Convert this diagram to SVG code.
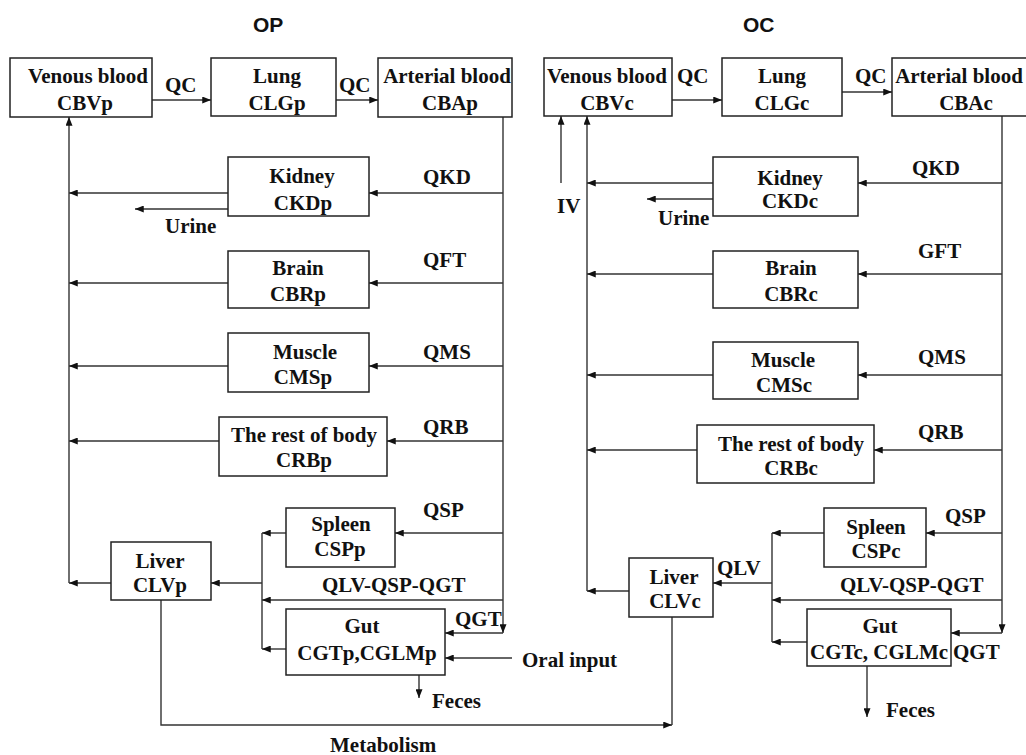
<svg xmlns="http://www.w3.org/2000/svg" width="1026" height="755" viewBox="0 0 1026 755">
<defs>
<style>
.box{fill:#fff;stroke:#222;stroke-width:1.5}
.t{font-family:"Liberation Serif","Times New Roman",serif;font-weight:bold;font-size:21px;fill:#111;text-anchor:middle}
.l{font-family:"Liberation Serif","Times New Roman",serif;font-weight:bold;font-size:21px;fill:#111}
.h{font-family:"Liberation Sans",Arial,sans-serif;font-weight:bold;font-size:21px;fill:#111}
.c{fill:none;stroke:#333;stroke-width:1.4}
.a{marker-end:url(#ah)}
</style>
<marker id="ah" viewBox="0 0 10 8" refX="10" refY="4" markerWidth="9" markerHeight="7" orient="auto" markerUnits="userSpaceOnUse"><path d="M0,0 L10,4 L0,8 z" fill="#111"/></marker>
</defs>
<rect width="1026" height="755" fill="#fff"/>
<text class="h" x="253" y="32">OP</text>
<text class="h" x="743" y="32">OC</text>

<g id="connectors">
<!-- OP -->
<path class="c a" d="M152,100 H211"/>
<path class="c a" d="M336,100 H378"/>
<path class="c a" d="M503,117 V633"/>
<path class="c a" d="M503,633 H445"/>
<path class="c a" d="M503,193 H369"/>
<path class="c a" d="M503,283 H369"/>
<path class="c a" d="M503,366 H369"/>
<path class="c a" d="M503,441 H387"/>
<path class="c a" d="M503,533 H395"/>
<path class="c a" d="M503,600 H262"/>
<path class="c a" d="M228,193 H69"/>
<path class="c a" d="M228,283 H69"/>
<path class="c a" d="M228,366 H69"/>
<path class="c a" d="M219,441 H69"/>
<path class="c a" d="M111,583 H69"/>
<path class="c a" d="M69,583 V117"/>
<path class="c a" d="M228,209 H135"/>
<path class="c a" d="M286,533 H262"/>
<path class="c a" d="M286,649 H262"/>
<path class="c" d="M262,533 V649"/>
<path class="c a" d="M262,583 H211"/>
<path class="c a" d="M512,658 H445"/>
<path class="c a" d="M419,675 V698"/>
<path class="c a" d="M161,600 V725 H672"/>
<!-- OC -->
<path class="c a" d="M672,100 H722"/>
<path class="c a" d="M842,92 H892"/>
<path class="c a" d="M561,183 V116"/>
<path class="c a" d="M587,591 V116"/>
<path class="c a" d="M1002,116 V633"/>
<path class="c a" d="M1002,633 H951"/>
<path class="c a" d="M1002,183 H858"/>
<path class="c a" d="M1002,274 H858"/>
<path class="c a" d="M1002,375 H858"/>
<path class="c a" d="M1002,450 H874"/>
<path class="c a" d="M1002,533 H926"/>
<path class="c a" d="M1002,600 H772"/>
<path class="c a" d="M713,183 H587"/>
<path class="c a" d="M713,274 H587"/>
<path class="c a" d="M713,375 H587"/>
<path class="c a" d="M697,450 H587"/>
<path class="c a" d="M629,591 H587"/>
<path class="c a" d="M713,199 H647"/>
<path class="c a" d="M824,533 H772"/>
<path class="c a" d="M807,642 H772"/>
<path class="c" d="M772,533 V642"/>
<path class="c a" d="M772,583 H713"/>
<path class="c a" d="M867,666 V717"/>
<path class="c" d="M672,617 V725"/>
</g>

<g id="labels">
<text class="l" x="165" y="92">QC</text>
<text class="l" x="339" y="92">QC</text>
<text class="l" x="423" y="184">QKD</text>
<text class="l" x="165" y="233">Urine</text>
<text class="l" x="423" y="267">QFT</text>
<text class="l" x="423" y="359">QMS</text>
<text class="l" x="423" y="434">QRB</text>
<text class="l" x="423" y="517">QSP</text>
<text class="l" x="322" y="592">QLV-QSP-QGT</text>
<text class="l" x="455" y="626">QGT</text>
<text class="l" x="522" y="667">Oral input</text>
<text class="l" x="432" y="708">Feces</text>
<text class="l" x="330" y="752">Metabolism</text>
<text class="l" x="677" y="83">QC</text>
<text class="l" x="855" y="83">QC</text>
<text class="l" x="557" y="213">IV</text>
<text class="l" x="912" y="175">QKD</text>
<text class="l" x="658" y="225">Urine</text>
<text class="l" x="918" y="258">GFT</text>
<text class="l" x="918" y="364">QMS</text>
<text class="l" x="918" y="439">QRB</text>
<text class="l" x="945" y="523">QSP</text>
<text class="l" x="717" y="575">QLV</text>
<text class="l" x="840" y="592">QLV-QSP-QGT</text>
<text class="l" x="953" y="659">QGT</text>
<text class="l" x="886" y="717">Feces</text>
</g>

<g id="venous-p"><rect class="box" x="10" y="58" width="142" height="59"/><text class="t" x="88" y="83">Venous blood</text><text class="t" x="85" y="110">CBVp</text></g>
<g id="lung-p"><rect class="box" x="211" y="58" width="125" height="58"/><text class="t" x="277" y="83">Lung</text><text class="t" x="277" y="110">CLGp</text></g>
<g id="arterial-p"><rect class="box" x="378" y="58" width="134" height="59"/><text class="t" x="447" y="83">Arterial blood</text><text class="t" x="450" y="110">CBAp</text></g>
<g id="kidney-p"><rect class="box" x="228" y="157" width="141" height="59"/><text class="t" x="302" y="183">Kidney</text><text class="t" x="303" y="210">CKDp</text></g>
<g id="brain-p"><rect class="box" x="228" y="251" width="141" height="57"/><text class="t" x="298" y="275">Brain</text><text class="t" x="298" y="301">CBRp</text></g>
<g id="muscle-p"><rect class="box" x="228" y="333" width="141" height="59"/><text class="t" x="305" y="359">Muscle</text><text class="t" x="303" y="384">CMSp</text></g>
<g id="rest-p"><rect class="box" x="219" y="417" width="168" height="59"/><text class="t" x="304" y="442">The rest of body</text><text class="t" x="304" y="467">CRBp</text></g>
<g id="spleen-p"><rect class="box" x="286" y="508" width="109" height="59"/><text class="t" x="341" y="531">Spleen</text><text class="t" x="340" y="556">CSPp</text></g>
<g id="liver-p"><rect class="box" x="111" y="542" width="100" height="58"/><text class="t" x="160" y="568">Liver</text><text class="t" x="160" y="592">CLVp</text></g>
<g id="gut-p"><rect class="box" x="286" y="609" width="159" height="66"/><text class="t" x="362" y="633">Gut</text><text class="t" x="367" y="660">CGTp,CGLMp</text></g>

<g id="venous-c"><rect class="box" x="544" y="58" width="128" height="58"/><text class="t" x="607" y="83">Venous blood</text><text class="t" x="607" y="110">CBVc</text></g>
<g id="lung-c"><rect class="box" x="722" y="58" width="120" height="58"/><text class="t" x="782" y="83">Lung</text><text class="t" x="782" y="110">CLGc</text></g>
<g id="arterial-c"><rect class="box" x="892" y="58" width="150" height="58"/><text class="t" x="959" y="83">Arterial blood</text><text class="t" x="966" y="110">CBAc</text></g>
<g id="kidney-c"><rect class="box" x="713" y="157" width="145" height="59"/><text class="t" x="790" y="185">Kidney</text><text class="t" x="790" y="208">CKDc</text></g>
<g id="brain-c"><rect class="box" x="713" y="251" width="145" height="57"/><text class="t" x="791" y="275">Brain</text><text class="t" x="791" y="301">CBRc</text></g>
<g id="muscle-c"><rect class="box" x="713" y="342" width="145" height="57"/><text class="t" x="783" y="367">Muscle</text><text class="t" x="784" y="392">CMSc</text></g>
<g id="rest-c"><rect class="box" x="697" y="425" width="177" height="58"/><text class="t" x="791" y="451">The rest of body</text><text class="t" x="791" y="475">CRBc</text></g>
<g id="spleen-c"><rect class="box" x="824" y="508" width="102" height="59"/><text class="t" x="876" y="534">Spleen</text><text class="t" x="876" y="558">CSPc</text></g>
<g id="liver-c"><rect class="box" x="629" y="558" width="84" height="59"/><text class="t" x="674" y="584">Liver</text><text class="t" x="675" y="608">CLVc</text></g>
<g id="gut-c"><rect class="box" x="807" y="609" width="144" height="57"/><text class="t" x="880" y="633">Gut</text><text class="t" x="879" y="659">CGTc, CGLMc</text></g>
</svg>
